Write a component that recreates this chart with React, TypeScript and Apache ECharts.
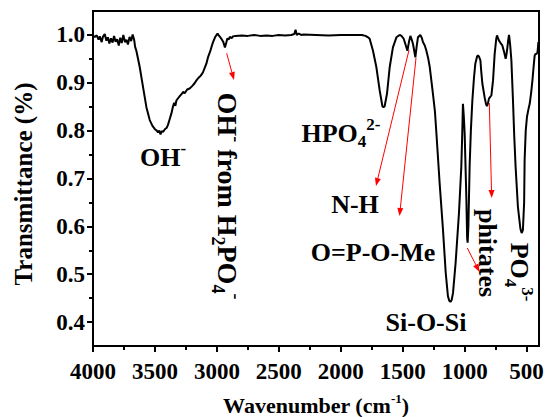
import React, { useEffect, useRef } from 'react';
import * as echarts from 'echarts';

// FTIR spectrum
const wavenumbers = [
  4000, 3985, 3970, 3955, 3945, 3930, 3920, 3905, 3892, 3880, 3868, 3855, 3842, 3830, 3818, 3805, 3792, 3780, 3768, 3755,
  3742, 3730, 3718, 3705, 3692, 3680, 3668, 3660, 3650, 3623, 3596, 3569, 3542, 3520, 3500, 3485, 3475, 3465, 3455, 3445,
  3435, 3420, 3405, 3395, 3380, 3367, 3355, 3345, 3335, 3327, 3300, 3280, 3274, 3260, 3240, 3220, 3200, 3180, 3165, 3150,
  3130, 3112, 3100, 3085, 3072, 3055, 3040, 3031, 3015, 2995, 2985, 2975, 2964, 2948, 2935, 2925, 2915, 2905, 2895, 2880,
  2870, 2850, 2800, 2750, 2700, 2650, 2600, 2550, 2500, 2450, 2400, 2375, 2365, 2355, 2340, 2320, 2300, 2200, 2100, 2000,
  1900, 1830, 1800, 1780, 1767, 1740, 1713, 1686, 1664, 1655, 1646, 1627, 1605, 1579, 1551, 1525, 1510, 1492, 1475, 1462,
  1450, 1438, 1427, 1417, 1398, 1388, 1377, 1358, 1345, 1337, 1322, 1309, 1295, 1282, 1256, 1240, 1228, 1202, 1175, 1153,
  1135, 1125, 1115, 1105, 1094, 1073, 1046, 1027, 1020, 1014, 1007, 1000, 986, 980, 976, 970, 960, 950, 938, 925,
  914, 900, 893, 885, 873, 865, 857, 839, 828, 820, 812, 804, 784, 771, 758, 745, 739, 733, 723, 710,
  696, 682, 669, 662, 655, 648, 642, 633, 623, 610, 600, 589, 570, 550, 540, 530, 520, 516, 507, 497,
  485, 475, 463, 453, 443, 435, 428, 421, 412, 408, 405,
];
const transmittance = [
  0.998, 0.996, 0.999, 0.990, 0.997, 0.985, 0.996, 1.002, 0.988, 0.995, 0.982, 0.993, 0.984, 0.998, 0.986, 0.991, 0.978, 0.994, 0.983, 1.000,
  0.985, 0.990, 0.980, 0.996, 0.987, 1.001, 0.990, 0.975, 0.967, 0.933, 0.891, 0.849, 0.822, 0.810, 0.803, 0.800, 0.796, 0.800, 0.792, 0.799,
  0.797, 0.803, 0.806, 0.812, 0.825, 0.836, 0.850, 0.858, 0.852, 0.863, 0.872, 0.878, 0.881, 0.878, 0.886, 0.888, 0.893, 0.899, 0.905, 0.910,
  0.915, 0.922, 0.930, 0.940, 0.953, 0.965, 0.978, 0.985, 0.995, 1.003, 0.999, 0.996, 0.992, 0.985, 0.974, 0.983, 0.993, 0.990, 0.996, 0.993,
  0.997, 0.998, 0.999, 0.998, 1.000, 0.998, 0.999, 0.998, 1.000, 0.999, 1.000, 1.002, 1.011, 1.000, 1.003, 1.000, 1.001, 1.000, 0.999, 1.000,
  1.000, 1.000, 0.998, 0.995, 0.992, 0.967, 0.933, 0.884, 0.851, 0.849, 0.851, 0.877, 0.933, 0.974, 0.995, 1.000, 0.998, 0.992, 0.978, 0.967,
  0.985, 0.998, 0.990, 0.981, 0.953, 0.975, 0.995, 1.000, 0.993, 0.985, 0.978, 0.967, 0.952, 0.933, 0.877, 0.840, 0.794, 0.690, 0.593, 0.503,
  0.454, 0.445, 0.442, 0.446, 0.461, 0.524, 0.628, 0.725, 0.790, 0.856, 0.830, 0.794, 0.655, 0.575, 0.566, 0.600, 0.725, 0.800, 0.863, 0.910,
  0.940, 0.955, 0.957, 0.955, 0.947, 0.920, 0.898, 0.870, 0.856, 0.851, 0.857, 0.867, 0.874, 0.905, 0.960, 0.992, 0.999, 0.995, 0.988, 0.983,
  0.978, 0.965, 0.950, 0.960, 0.974, 0.990, 1.000, 0.980, 0.947, 0.863, 0.790, 0.725, 0.640, 0.595, 0.586, 0.592, 0.650, 0.739, 0.800, 0.829,
  0.845, 0.856, 0.880, 0.905, 0.935, 0.957, 0.960, 0.960, 0.964, 0.975, 0.985,
];

const xTickValues = [500, 1000, 1500, 2000, 2500, 3000, 3500, 4000];
const xMinorTickValues = [750, 1250, 1750, 2250, 2750, 3250, 3750];
const yTickValues = [0.4, 0.5, 0.6, 0.7, 0.8, 0.9, 1.0];
const yMinorTickValues = [0.45, 0.55, 0.65, 0.75, 0.85, 0.95];
const yTitle = 'Transmittance (%)';

const FONT = 'Liberation Serif';
const RED = '#ff0000';

function richTokens(size: number) {
  const small = Math.round(size * 0.65);
  return {
    m: { fontSize: size, fontFamily: FONT, fontWeight: 'bold', lineHeight: Math.round(size * 1.3), fill: '#000' },
    sub: { fontSize: small, fontFamily: FONT, fontWeight: 'bold', lineHeight: small, verticalAlign: 'bottom', fill: '#000' },
    sup: { fontSize: small, fontFamily: FONT, fontWeight: 'bold', lineHeight: small, verticalAlign: 'top', fill: '#000' },
  };
}

function label(text: string, x: number, y: number, rotation = 0, size = 26) {
  return {
    type: 'text',
    x,
    y,
    rotation,
    z: 10,
    style: {
      text,
      rich: richTokens(size),
      align: 'center',
      verticalAlign: 'middle',
      fill: '#000',
      font: `bold ${size}px ${FONT}`,
    },
  };
}

function arrow(x1: number, y1: number, x2: number, y2: number) {
  const dx = x2 - x1;
  const dy = y2 - y1;
  const len = Math.sqrt(dx * dx + dy * dy);
  const ux = dx / len;
  const uy = dy / len;
  const hl = 8;
  const hw = 3;
  const bx = x2 - ux * hl;
  const by = y2 - uy * hl;
  return [
    { type: 'line', z: 10, shape: { x1, y1, x2: bx, y2: by }, style: { stroke: RED, lineWidth: 1 } },
    {
      type: 'polygon',
      z: 10,
      shape: { points: [[x2, y2], [bx - uy * hw, by + ux * hw], [bx + uy * hw, by - ux * hw]] },
      style: { fill: RED },
    },
  ];
}

const axisLabelStyle = { fontFamily: FONT, fontWeight: 'bold', fontSize: 23, color: '#000' };

export default function App() {
  const ref = useRef<HTMLDivElement>(null);
  useEffect(() => {
    if (!ref.current) return;
    const chart = echarts.init(ref.current, null, { renderer: 'svg' });
    const data = wavenumbers.map((w, i) => [w, transmittance[i]]);
    const graphics: any[] = [
      {
        type: 'text',
        x: 23,
        y: 184,
        rotation: Math.PI / 2,
        style: {
          text: yTitle,
          font: `bold 25px ${FONT}`,
          fill: '#000',
          align: 'center',
          verticalAlign: 'middle',
        },
      },
      label('{m|OH}{sup|-}', 163, 157),
      label('{m|OH}{sup|-}{m| from H}{sub|2}{m|PO}{sub|4}{sup|-}', 227, 196, -Math.PI / 2, 28),
      label('{m|HPO}{sub|4}{sup|2-}', 341, 133),
      label('{m|N-H}', 355, 204),
      label('{m|O=P-O-Me}', 373, 252),
      label('{m|Si-O-Si}', 426, 322),
      label('{m|phitates}', 487, 253, -Math.PI / 2),
      label('{m|PO}{sub|4}{sup|3-}', 519, 272, -Math.PI / 2),
      ...arrow(226.7, 53.3, 234, 80),
      ...arrow(409, 50, 376, 186),
      ...arrow(416, 58, 399.5, 216),
      ...arrow(489.3, 103, 491.7, 198),
      ...arrow(467.3, 248, 479.5, 272),
    ];
    chart.setOption({
      animation: false,
      backgroundColor: '#fff',
      grid: {
        left: 93,
        right: 7,
        top: 11,
        bottom: 71,
        show: true,
        borderColor: '#000',
        borderWidth: 2,
        containLabel: false,
        outerBoundsMode: 'none',
      },
      xAxis: [
        {
          type: 'value',
          inverse: true,
          min: 400,
          max: 4000,
          name: 'Wavenumber (cm{sup|-1})',
          nameLocation: 'middle',
          nameGap: 46,
          nameTextStyle: {
            fontFamily: FONT,
            fontWeight: 'bold',
            fontSize: 22,
            color: '#000',
            lineHeight: 26,
            rich: {
              sup: { fontFamily: FONT, fontWeight: 'bold', fontSize: 13, lineHeight: 13, verticalAlign: 'top', color: '#000' },
            },
          },
          axisLine: { show: true, onZero: false, lineStyle: { color: '#000', width: 2 } },
          axisTick: { show: true, inside: false, length: 6, customValues: xTickValues, lineStyle: { color: '#000', width: 2 } },
          axisLabel: {
            ...axisLabelStyle,
            margin: 14,
            customValues: xTickValues,
            formatter: (v: number) => String(v),
          },
          splitLine: { show: false },
        },
        {
          type: 'value',
          inverse: true,
          min: 400,
          max: 4000,
          position: 'bottom',
          axisLine: { show: false },
          axisTick: { show: true, inside: false, length: 4, customValues: xMinorTickValues, lineStyle: { color: '#000', width: 2 } },
          axisLabel: { show: false },
          splitLine: { show: false },
        },
      ],
      yAxis: [
        {
          type: 'value',
          min: 0.35,
          max: 1.05,
          axisLine: { show: true, onZero: false, lineStyle: { color: '#000', width: 2 } },
          axisTick: { show: true, inside: false, length: 6, customValues: yTickValues, lineStyle: { color: '#000', width: 2 } },
          axisLabel: {
            ...axisLabelStyle,
            margin: 8,
            customValues: yTickValues,
            formatter: (v: number) => v.toFixed(1),
          },
          splitLine: { show: false },
        },
        {
          type: 'value',
          min: 0.35,
          max: 1.05,
          position: 'left',
          axisLine: { show: false },
          axisTick: { show: true, inside: false, length: 4, customValues: yMinorTickValues, lineStyle: { color: '#000', width: 2 } },
          axisLabel: { show: false },
          splitLine: { show: false },
        },
      ],
      series: [
        {
          type: 'line',
          xAxisIndex: 0,
          yAxisIndex: 0,
          data,
          showSymbol: false,
          symbol: 'none',
          smooth: false,
          lineStyle: { color: '#000', width: 2 },
        },
      ],
      graphic: graphics,
    });
    return () => chart.dispose();
  }, []);
  return <div ref={ref} style={{ position: 'fixed', left: 0, top: 0, width: 546, height: 417 }} />;
}
